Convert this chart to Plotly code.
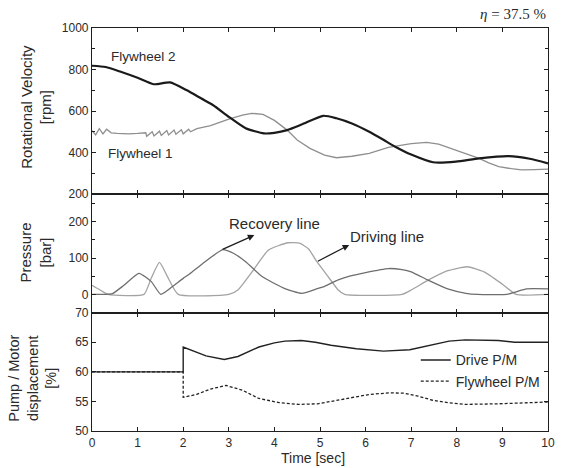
import plotly.graph_objects as go

# ---- Top panel: rotational velocity [rpm]
t_fw1 = [0, 0.08, 0.16, 0.24, 0.32, 0.42, 0.55, 0.8, 1.0, 1.18, 1.2, 1.32, 1.36, 1.48, 1.52, 1.64, 1.68,
         1.8, 1.84, 1.96, 2.0, 2.12, 2.16, 2.3, 2.6, 3.0, 3.3, 3.5, 3.75, 4.0, 4.28, 4.5, 4.78, 5.1,
         5.36, 5.7, 6.08, 6.5, 7.0, 7.34, 7.6, 7.98, 8.3, 8.49, 8.7, 8.92, 9.2, 9.42, 9.7, 10]
fw1 = [505, 485, 515, 490, 512, 495, 492, 490, 492, 495, 478, 500, 480, 503, 482, 506, 485,
       508, 488, 510, 490, 512, 500, 515, 530, 561, 580, 589, 584, 555, 508, 460, 420, 388,
       375, 382, 396, 425, 443, 449, 440, 412, 385, 372, 350, 332, 322, 316, 318, 320]

t_fw2 = [0, 0.3, 0.63, 1.0, 1.35, 1.71, 2.07, 2.4, 2.65, 3.0, 3.37, 3.77, 4.0,
         4.28, 4.6, 5.07, 5.36, 5.7, 6.08, 6.4, 6.65, 7.0, 7.48, 7.98, 8.49, 9.14, 9.6, 10]
fw2 = [818, 812, 789, 760, 729, 738, 701, 660, 629, 572, 517, 492, 495,
       508, 535, 577, 565, 540, 500, 460, 428, 390, 353, 356, 372, 383, 370, 348]

# ---- Middle panel: pressure [bar]
t_rec = [0, 0.3, 0.45, 0.7, 1.03, 1.3, 1.51, 1.75, 2.0, 2.14, 2.43, 2.87, 3.1, 3.37, 3.73, 4.0,
         4.23, 4.6, 4.9, 5.1, 5.4, 5.65, 6.0, 6.5, 6.8, 7.0, 7.37, 7.8, 8.2, 8.45, 9.1, 9.3, 9.53, 10]
rec = [0, 0, 2, 25, 58, 35, 0, 20, 44, 56, 85, 123, 113, 90, 49, 30,
       16, 3, 14, 22, 40, 50, 60, 71, 68, 62, 39, 15, 3, 0, 0, 7, 15, 15]

t_drv = [0, 0.15, 0.35, 1.14, 1.3, 1.48, 1.65, 1.89, 3.0, 3.2, 3.51, 3.87, 4.3, 4.55, 4.75, 4.92,
         5.2, 5.4, 5.54, 6.8, 7.0, 7.37, 7.8, 8.23, 8.6, 9.0, 9.3, 10]
drv = [25, 14, 0, 0, 45, 88, 50, 0, 0, 12, 62, 122, 142, 141, 125, 92,
       45, 12, 0, 0, 12, 39, 65, 76, 62, 28, 0, 0]

# ---- Bottom panel: pump/motor displacement [%]
t_drive = [0, 2, 2, 2.2, 2.5, 2.9, 3.2, 3.66, 4.0, 4.23, 4.59, 4.9, 5.24, 5.8, 6.39, 6.97,
           7.4, 7.83, 8.19, 8.6, 8.91, 9.27, 10]
drive = [60, 60, 64.2, 63.6, 62.7, 62.1, 62.6, 64.2, 64.9, 65.2, 65.3, 65.0, 64.5, 63.9, 63.5, 63.75,
         64.5, 65.2, 65.4, 65.4, 65.3, 65.0, 65.0]

t_fly = [0, 2, 2, 2.3, 2.6, 2.94, 3.3, 3.66, 4.1, 4.52, 4.95, 5.3, 5.67, 6.1, 6.54, 6.83, 7.15,
         7.47, 7.8, 8.19, 8.91, 9.5, 10]
fly = [60, 60, 55.7, 56.2, 57.1, 57.7, 56.9, 55.5, 54.8, 54.5, 54.6, 55.1, 55.7, 56.2, 56.45, 56.4, 55.9,
       55.2, 54.8, 54.5, 54.6, 54.8, 54.9]

x_ticks = list(range(0, 11))

FONT = "Liberation Sans, Arial, sans-serif"
TXT = "#2a2a2a"
AX = "#1e1e1e"

fig = go.Figure()
fig.add_trace(go.Scatter(x=t_fw1, y=fw1, mode="lines", line=dict(color="#8f8f8f", width=1.3),
                         showlegend=False, xaxis="x", yaxis="y"))
fig.add_trace(go.Scatter(x=t_fw2, y=fw2, mode="lines", line=dict(color="#1a1a1a", width=2.2, shape="spline", smoothing=0.6),
                         showlegend=False, xaxis="x", yaxis="y"))
fig.add_trace(go.Scatter(x=t_drv, y=drv, mode="lines", line=dict(color="#a3a3a3", width=1.3, shape="spline", smoothing=0.5),
                         showlegend=False, xaxis="x2", yaxis="y2"))
fig.add_trace(go.Scatter(x=t_rec, y=rec, mode="lines", line=dict(color="#6e6e6e", width=1.3, shape="spline", smoothing=0.5),
                         showlegend=False, xaxis="x2", yaxis="y2"))
fig.add_trace(go.Scatter(x=t_drive, y=drive, mode="lines", name="Drive P/M",
                         line=dict(color="#222222", width=1.4),
                         xaxis="x3", yaxis="y3"))
fig.add_trace(go.Scatter(x=t_fly, y=fly, mode="lines", name="Flywheel P/M",
                         line=dict(color="#222222", width=1.3, dash="3px,2px"),
                         xaxis="x3", yaxis="y3"))

axis_common = dict(showline=True, linecolor=AX, linewidth=1.2, mirror="ticks", ticks="inside",
                   ticklen=4, tickwidth=1.3, tickcolor=AX, showgrid=False, zeroline=False,
                   tickfont=dict(family=FONT, size=12, color=TXT))

xcommon = dict(axis_common, range=[0, 10], tickvals=x_ticks)

fig.update_layout(
    width=561, height=468,
    margin=dict(l=92, r=6, t=28, b=37),
    paper_bgcolor="white", plot_bgcolor="white",
    font=dict(family=FONT, color=TXT),
    xaxis=dict(xcommon, anchor="y", showticklabels=False),
    xaxis2=dict(xcommon, anchor="y2", matches="x", showticklabels=False),
    xaxis3=dict(xcommon, anchor="y3", matches="x", ticktext=[str(v) for v in x_ticks],
                ticklabeloverflow="allow"),
    yaxis=dict(axis_common, domain=[0.588, 1.0], range=[200, 1000], tickvals=[200, 400, 600, 800, 1000],
               minor=dict(dtick=100, ticklen=3, tickcolor=AX, ticks="inside")),
    yaxis2=dict(axis_common, domain=[0.2935, 0.588], range=[-50.5, 276], tickvals=[0, 100, 200],
                minor=dict(dtick=50, ticklen=3, tickcolor=AX, ticks="inside")),
    yaxis3=dict(axis_common, domain=[0, 0.2935], range=[50, 70], tickvals=[50, 55, 60, 65, 70]),
    legend=dict(x=0.71, y=0.215, xanchor="left", yanchor="top", bgcolor="rgba(0,0,0,0)",
                font=dict(family=FONT, size=14, color=TXT), tracegroupgap=0),
    showlegend=True,
)

ann = [
    dict(text="<i>η</i> = 37.5 %", xref="paper", yref="paper", x=1.0, y=1.034, xanchor="right", yanchor="middle",
         showarrow=False, font=dict(family="Liberation Serif, Times New Roman, serif", size=15, color=TXT)),
    dict(text="Flywheel 2", xref="x", yref="y", x=1.14, y=865, showarrow=False, font=dict(size=13.5)),
    dict(text="Flywheel 1", xref="x", yref="y", x=1.07, y=397, showarrow=False, font=dict(size=13.5)),
    dict(text="Recovery line", xref="x2", yref="y2", x=4.0, y=194, showarrow=False, font=dict(size=15)),
    dict(text="Driving line", xref="x2", yref="y2", x=6.48, y=158, showarrow=False, font=dict(size=15)),
    dict(text="", xref="x2", yref="y2", x=3.56, y=163, ax=2.83, ay=122, axref="x2", ayref="y2",
         showarrow=True, arrowhead=2, arrowsize=1, arrowwidth=1.3, arrowcolor="#1e1e1e"),
    dict(text="", xref="x2", yref="y2", x=5.64, y=136, ax=4.92, ay=89, axref="x2", ayref="y2",
         showarrow=True, arrowhead=2, arrowsize=1, arrowwidth=1.3, arrowcolor="#1e1e1e"),
    dict(text="Rotational Velocity<br>[rpm]", xref="paper", yref="paper", x=-0.121, y=0.804,
         xanchor="center", yanchor="middle", textangle=-90, showarrow=False, font=dict(size=15)),
    dict(text="Pressure<br>[bar]", xref="paper", yref="paper", x=-0.124, y=0.444,
         xanchor="center", yanchor="middle", textangle=-90, showarrow=False, font=dict(size=15)),
    dict(text="Pump / Motor<br>displacement<br>[%]", xref="paper", yref="paper", x=-0.130, y=0.1315,
         xanchor="center", yanchor="middle", textangle=-90, showarrow=False, font=dict(size=14.5)),
    dict(text="Time [sec]", xref="paper", yref="paper", x=0.484, y=-0.066, xanchor="center", yanchor="middle",
         showarrow=False, font=dict(size=14)),
]
fig.update_layout(annotations=ann)

fig.write_html("out.html", config={"displayModeBar": False},
               post_script="document.body.style.margin='0';document.body.style.overflow='hidden';")
